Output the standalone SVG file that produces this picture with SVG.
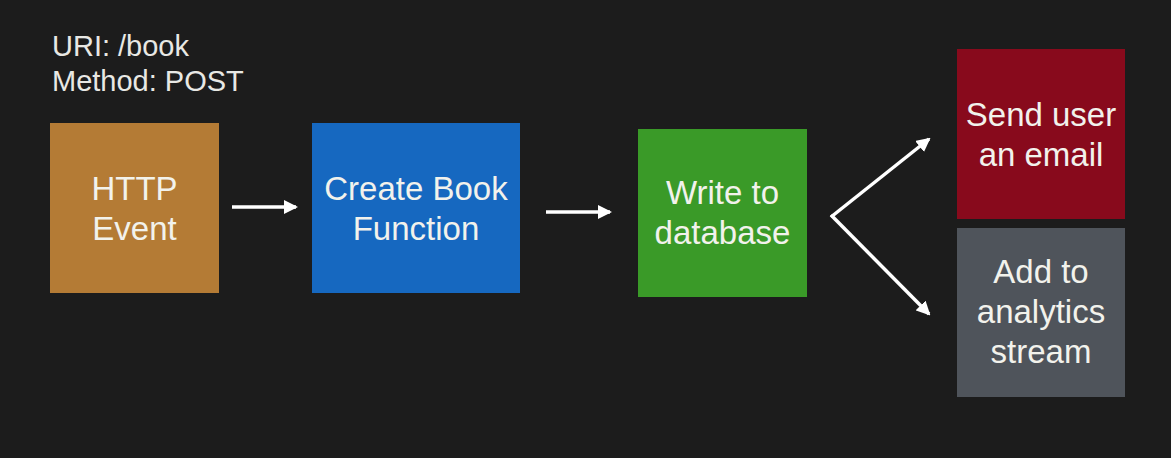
<svg xmlns="http://www.w3.org/2000/svg" width="1171" height="458" viewBox="0 0 1171 458">
<style>
.t{font-family:"Liberation Sans",Arial,sans-serif;fill:#f2f2ec;font-size:33px;text-anchor:middle}
.h{font-family:"Liberation Sans",Arial,sans-serif;fill:#e8e8e4;font-size:29px}
.c{stroke:#ffffff;stroke-width:3.5;fill:none}
</style>
<defs>
<marker id="ah" markerWidth="14" markerHeight="14" refX="12" refY="7" orient="auto" markerUnits="userSpaceOnUse" viewBox="0 0 14 14">
<path d="M0,0 L14,7 L0,14 z" fill="#ffffff"/>
</marker>
</defs>
<rect width="1171" height="458" fill="#1c1c1c"/>
<g id="label">
<text class="h" x="52" y="56">URI: /book</text>
<text class="h" x="52" y="91">Method: POST</text>
</g>
<g id="http">
<rect x="50" y="123" width="169" height="170" fill="#b47b35"/>
<text class="t" x="134.5" y="200">HTTP</text>
<text class="t" x="134.5" y="240">Event</text>
</g>
<g id="create">
<rect x="312" y="123" width="208" height="170" fill="#1668c0"/>
<text class="t" x="416" y="200">Create Book</text>
<text class="t" x="416" y="240">Function</text>
</g>
<g id="write">
<rect x="638" y="129" width="169" height="168" fill="#3a9a28"/>
<text class="t" x="722.5" y="204">Write to</text>
<text class="t" x="722.5" y="244">database</text>
</g>
<g id="email">
<rect x="957" y="49" width="168" height="170" fill="#880a1c"/>
<text class="t" x="1041" y="126">Send user</text>
<text class="t" x="1041" y="166">an email</text>
</g>
<g id="analytics">
<rect x="957" y="228" width="168" height="169" fill="#4f545b"/>
<text class="t" x="1041" y="283">Add to</text>
<text class="t" x="1041" y="323">analytics</text>
<text class="t" x="1041" y="363">stream</text>
</g>
<g id="connectors">
<line class="c" x1="232" y1="207" x2="296" y2="207" marker-end="url(#ah)"/>
<line class="c" x1="546" y1="212" x2="610" y2="212" marker-end="url(#ah)"/>
<line class="c" x1="831" y1="217" x2="929" y2="139" marker-end="url(#ah)"/>
<line class="c" x1="831" y1="215" x2="929" y2="314" marker-end="url(#ah)"/>
</g>
</svg>
